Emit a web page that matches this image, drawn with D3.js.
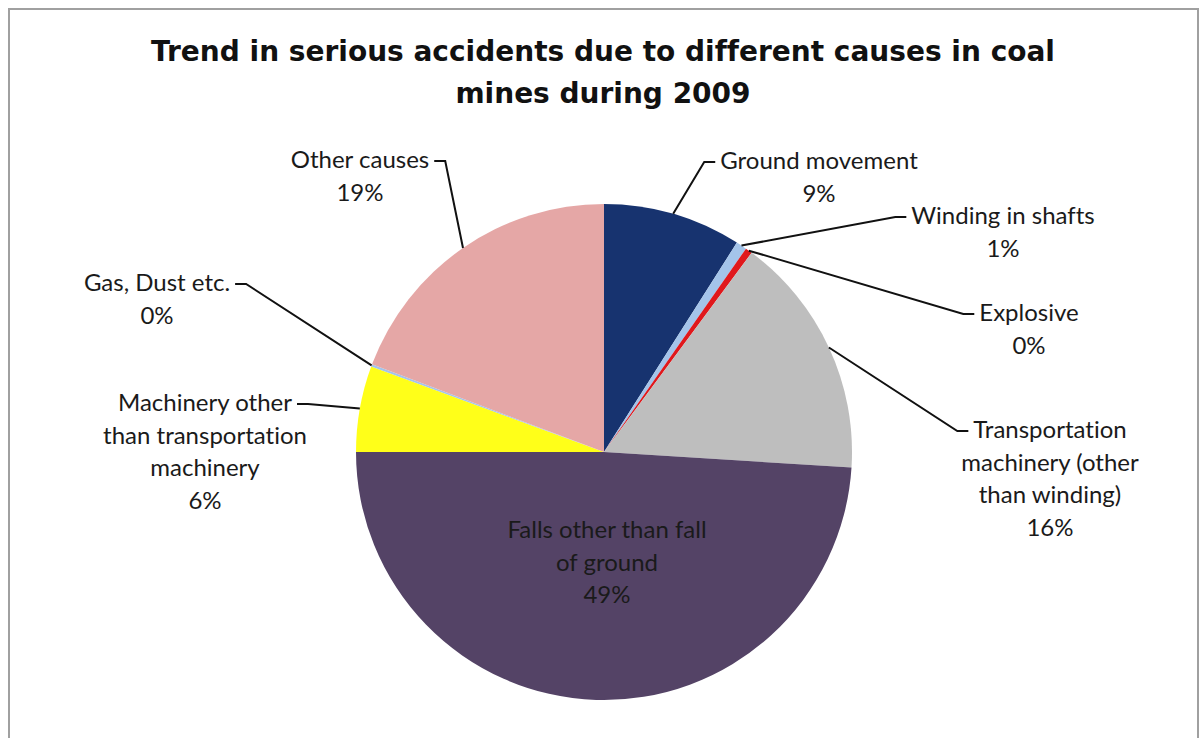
<!DOCTYPE html>
<html>
<head>
<meta charset="utf-8">
<script src="https://cdn.jsdelivr.net/npm/d3@7"></script>
<style>
  body { margin: 0; background: #fff; }
  text { font-family: Lato, "Noto Sans", sans-serif; font-variant-ligatures: none; }
</style>
</head>
<body>
<div id="chart"></div>
<script>
// data (percent shares)
var causes = ["Ground movement", "Winding in shafts", "Explosive",
  "Transportation machinery (other than winding)", "Falls other than fall of ground",
  "Machinery other than transportation machinery", "Gas, Dust etc.", "Other causes"];
var shares = [9.0, 0.7, 0.45, 15.85, 49.0, 5.6, 0.15, 19.25];
var colors = ["#17336f", "#a4c4ea", "#e0181c", "#bebebe", "#544366", "#ffff19", "#a4c4ea", "#e5a7a6"];

// how each label is broken into lines
var labelLines = [
  ["Ground movement"],
  ["Winding in shafts"],
  ["Explosive"],
  ["Transportation", "machinery (other", "than winding)"],
  ["Falls other than fall", "of ground"],
  ["Machinery other", "than transportation", "machinery"],
  ["Gas, Dust etc."],
  ["Other causes"]
];
// label centre (x) and first baseline (y), and the side the leader comes in from
var labelPos = [
  [819, 169, "left"], [1003, 224, "left"], [1029, 321, "left"], [1050, 438, "left"],
  [607, 538, null], [205, 411, "right"], [157, 291, "right"], [360, 168, "right"]
];

var width = 1200, height = 738;
var cx = 604, cy = 452, radius = 248;
var lineH = 32.5;

var svg = d3.select("#chart").append("svg")
    .attr("width", width)
    .attr("height", height);

// chart frame
svg.append("rect")
    .attr("x", 9).attr("y", 9)
    .attr("width", 1189).attr("height", 760)
    .attr("fill", "none")
    .attr("stroke", "#a0a0a0")
    .attr("stroke-width", 2);

// title
var title = svg.append("text")
    .attr("text-anchor", "middle")
    .style("font-family", "'DejaVu Sans', Verdana, sans-serif")
    .style("font-weight", "bold")
    .style("font-size", "28px")
    .attr("fill", "#111");
title.append("tspan").attr("x", 603).attr("y", 61).text("Trend in serious accidents due to different causes in coal");
title.append("tspan").attr("x", 603).attr("y", 103).text("mines during 2009");

var pie = d3.pie().sort(null).value(function(d) { return d; });
var arcs = pie(shares);
var arc = d3.arc().innerRadius(0).outerRadius(radius);

var g = svg.append("g").attr("transform", "translate(" + cx + "," + cy + ")");

g.selectAll("path.slice")
    .data(arcs)
    .enter()
    .append("path")
    .attr("class", "slice")
    .attr("d", arc)
    .attr("fill", function(d, i) { return colors[i]; });

// labels
arcs.forEach(function(d, i) {
    var pos = labelPos[i];
    var lines = labelLines[i].concat([Math.round(shares[i]) + "%"]);
    var t = svg.append("text")
        .attr("text-anchor", "middle")
        .style("font-size", "24px")
        .attr("fill", "#1a1a1a");
    lines.forEach(function(s, k) {
        t.append("tspan").attr("x", pos[0]).attr("y", pos[1] + k * lineH).text(s);
    });

    if (!pos[2]) return;
    // leader line: from the arc midpoint to an elbow, then a short tail to the first line
    var first = t.select("tspan").node();
    var w = first.getComputedTextLength();
    var mid = (d.startAngle + d.endAngle) / 2;
    var sx = cx + radius * Math.sin(mid), sy = cy - radius * Math.cos(mid);
    var ey = pos[1] - 7;
    var ex = pos[2] === "left" ? pos[0] - w / 2 - 5 : pos[0] + w / 2 + 5;
    var bx = pos[2] === "left" ? ex - 11 : ex + 11;
    svg.append("path")
        .attr("d", d3.line()([[sx, sy], [bx, ey], [ex, ey]]))
        .attr("fill", "none")
        .attr("stroke", "#111")
        .attr("stroke-width", 2);
});
</script>
</body>
</html>
